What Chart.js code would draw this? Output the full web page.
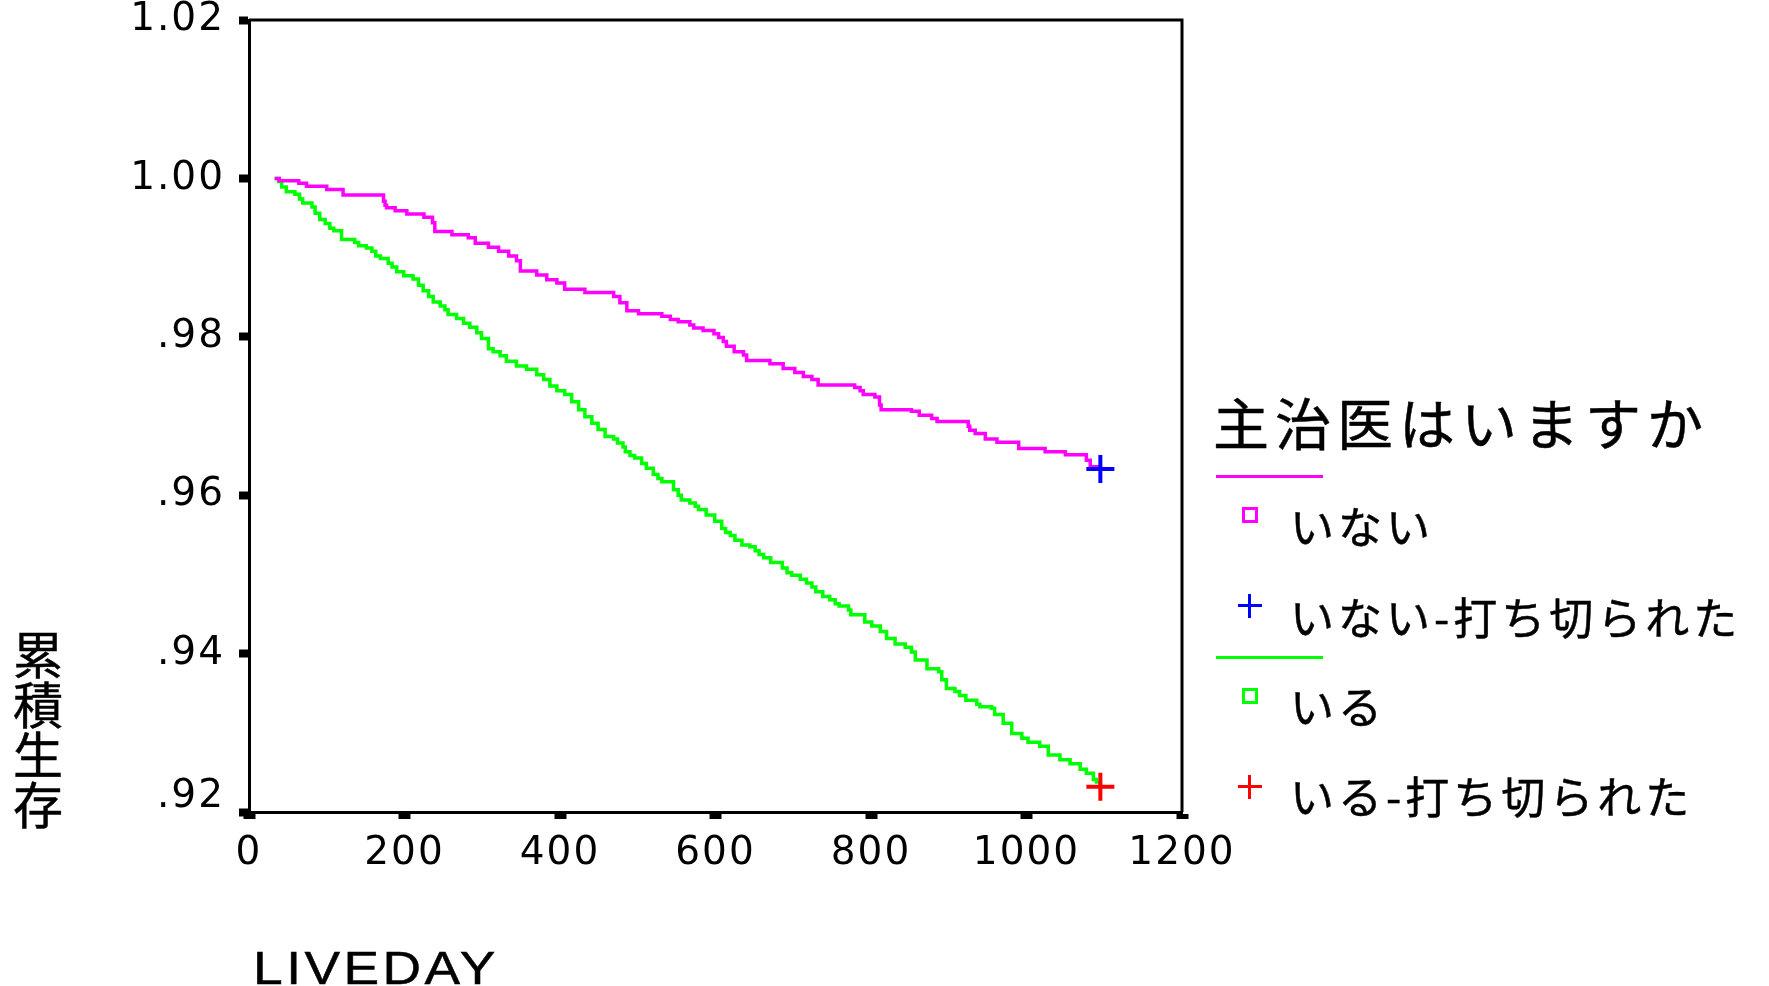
<!DOCTYPE html>
<html>
<head>
<meta charset="utf-8">
<script src="https://cdn.jsdelivr.net/npm/chart.js@4.4.1/dist/chart.umd.min.js"></script>
<style>
  body { margin: 0; background: #fff; }
  #wrap { position: relative; width: 1769px; height: 986px; }
  .txt { position: absolute; font-family: 'Noto Sans CJK JP', sans-serif; color: #000; white-space: nowrap; -webkit-text-stroke: 0.5px #000; }
  .legend-title { font-size: 56px; line-height: 56px; letter-spacing: 6px; }
  .legend-item { font-size: 44px; line-height: 44px; letter-spacing: 4px; }
  .sample { position: absolute; height: 3px; width: 107px; }
  .square { position: absolute; width: 10px; height: 10px; border: 3px solid; }
  .plus { position: absolute; width: 24px; height: 24px; }
  .plus::before, .plus::after { content: ''; position: absolute; background: currentColor; }
  .plus::before { left: 0; top: 10px; width: 24px; height: 3px; }
  .plus::after { left: 10px; top: 0; width: 3px; height: 24px; }
</style>
</head>
<body>
<div id="wrap">
  <canvas id="kmChart"></canvas>

  <div class="txt" id="ytitle" style="left:12px; top:627px; font-size:50px; line-height:50px; width:52px; text-align:center;">累<br>積<br>生<br>存</div>
  <div class="txt" style="left:253px; top:945px; font-family:'Liberation Sans', Arial, sans-serif; font-size:46px; line-height:46px; letter-spacing:3px; transform:scaleX(1.16); transform-origin:left top;">LIVEDAY</div>

  <div class="txt legend-title" style="left:1213px; top:393px;">主治医はいますか</div>
  <div class="sample" style="left:1216px; top:475px; background:#ff00ff;"></div>
  <div class="square" style="left:1242px; top:507px; border-color:#ff00ff;"></div>
  <div class="txt legend-item" style="left:1290px; top:503px;">いない</div>
  <div class="plus" style="left:1238px; top:594px; color:#0000ff;"></div>
  <div class="txt legend-item" style="left:1290px; top:594px;">いない-打ち切られた</div>
  <div class="sample" style="left:1216px; top:656px; background:#00ff00;"></div>
  <div class="square" style="left:1242px; top:688px; border-color:#00ff00;"></div>
  <div class="txt legend-item" style="left:1290px; top:683px;">いる</div>
  <div class="plus" style="left:1238px; top:775px; color:#ff0000;"></div>
  <div class="txt legend-item" style="left:1290px; top:773px;">いる-打ち切られた</div>
</div>

<script>
// survival curve for "いない" (no primary doctor)
const noDocDays = [33, 39, 64, 74, 100, 121, 173, 175, 177, 188, 203, 225, 236, 239, 261, 282, 291, 308, 321, 334,
  344, 349, 370, 383, 396, 406, 432, 469, 477, 486, 501, 531, 542, 552, 567, 572, 584, 598, 604, 610,
  614, 624, 636, 640, 670, 687, 702, 713, 724, 732, 779, 786, 790, 805, 811, 813, 852, 862, 878, 885,
  925, 927, 934, 947, 962, 990, 1024, 1050, 1077, 1082, 1095];
const noDocSurv = [1.0000, 0.9997, 0.9994, 0.9990, 0.9986, 0.9979, 0.9971, 0.9966, 0.9963, 0.9959, 0.9955, 0.9951, 0.9944, 0.9933, 0.9929, 0.9925, 0.9918, 0.9913, 0.9908, 0.9902,
  0.9896, 0.9883, 0.9878, 0.9872, 0.9868, 0.9860, 0.9856, 0.9851, 0.9843, 0.9833, 0.9829, 0.9826, 0.9822, 0.9819, 0.9815, 0.9811, 0.9808, 0.9804, 0.9799, 0.9794,
  0.9788, 0.9781, 0.9777, 0.9770, 0.9766, 0.9760, 0.9755, 0.9750, 0.9746, 0.9739, 0.9736, 0.9732, 0.9727, 0.9724, 0.9714, 0.9708, 0.9706, 0.9701, 0.9697, 0.9693,
  0.9687, 0.9682, 0.9678, 0.9671, 0.9667, 0.9659, 0.9655, 0.9651, 0.9644, 0.9636, 0.9634];

// survival curve for "いる" (has primary doctor)
const hasDocDays = [33, 38, 42, 48, 59, 65, 69, 81, 85, 91, 98, 104, 109, 119, 136, 141, 151, 158, 163, 169,
  179, 184, 190, 199, 211, 218, 224, 231, 237, 246, 252, 256, 267, 276, 284, 293, 299, 308, 314, 323,
  331, 344, 357, 370, 379, 387, 396, 406, 415, 424, 432, 441, 449, 458, 469, 474, 481, 484, 490, 496,
  505, 511, 520, 526, 531, 546, 552, 556, 567, 574, 578, 588, 599, 608, 613, 619, 625, 634, 644, 651,
  656, 662, 671, 686, 692, 698, 709, 717, 724, 729, 738, 747, 754, 759, 771, 774, 792, 801, 812, 820,
  831, 844, 852, 857, 872, 887, 891, 897, 908, 914, 922, 936, 940, 955, 959, 970, 981, 994, 1002, 1017,
  1028, 1043, 1056, 1069, 1077, 1086, 1090, 1095];
const hasDocSurv = [1.0000, 0.9996, 0.9989, 0.9983, 0.9980, 0.9974, 0.9969, 0.9964, 0.9956, 0.9948, 0.9943, 0.9937, 0.9934, 0.9923, 0.9919, 0.9915, 0.9912, 0.9908, 0.9902, 0.9899,
  0.9893, 0.9888, 0.9882, 0.9877, 0.9873, 0.9865, 0.9858, 0.9851, 0.9844, 0.9839, 0.9834, 0.9828, 0.9823, 0.9817, 0.9812, 0.9805, 0.9798, 0.9785, 0.9781, 0.9776,
  0.9769, 0.9763, 0.9759, 0.9752, 0.9746, 0.9738, 0.9732, 0.9727, 0.9718, 0.9708, 0.9699, 0.9691, 0.9683, 0.9674, 0.9671, 0.9666, 0.9661, 0.9655, 0.9650, 0.9647,
  0.9640, 0.9634, 0.9626, 0.9621, 0.9617, 0.9607, 0.9600, 0.9594, 0.9590, 0.9586, 0.9582, 0.9575, 0.9567, 0.9558, 0.9553, 0.9549, 0.9543, 0.9537, 0.9535, 0.9530,
  0.9525, 0.9521, 0.9515, 0.9508, 0.9502, 0.9499, 0.9494, 0.9489, 0.9484, 0.9478, 0.9472, 0.9468, 0.9463, 0.9460, 0.9455, 0.9449, 0.9440, 0.9435, 0.9428, 0.9419,
  0.9412, 0.9408, 0.9402, 0.9392, 0.9381, 0.9377, 0.9367, 0.9356, 0.9352, 0.9347, 0.9341, 0.9336, 0.9333, 0.9331, 0.9323, 0.9312, 0.9299, 0.9293, 0.9288, 0.9283,
  0.9272, 0.9266, 0.9261, 0.9254, 0.9249, 0.9241, 0.9238, 0.9233];

// censored points at the end of each curve
const noDocCensor = { day: 1095, surv: 0.9633 };
const hasDocCensor = { day: 1095, surv: 0.9232 };

const xTickLabels = ['0', '200', '400', '600', '800', '1000', '1200'];
const yTickLabels = ['.92', '.94', '.96', '.98', '1.00', '1.02'];

function toPoints(days, surv) {
    return days.map((d, i) => ({ x: d, y: surv[i] }));
}

const tickFamily = "'DejaVu Sans', 'Liberation Sans', sans-serif";

const spacingPlugin = {
    id: 'spacing',
    beforeLayout(chart) { chart.ctx.letterSpacing = '2px'; },
    beforeDraw(chart) { chart.ctx.letterSpacing = '2px'; }
};

const framePlugin = {
    id: 'frame',
    afterDraw(chart) {
        const { ctx, chartArea } = chart;
        ctx.save();
        ctx.strokeStyle = '#000';
        ctx.lineWidth = 3;
        ctx.beginPath();
        ctx.moveTo(chartArea.left, chartArea.top);
        ctx.lineTo(chartArea.right, chartArea.top);
        ctx.lineTo(chartArea.right, chartArea.bottom);
        ctx.stroke();
        ctx.restore();
    }
};

const ctx = document.getElementById('kmChart').getContext('2d');
new Chart(ctx, {
    type: 'line',
    data: {
        datasets: [
            {
                label: 'いない-打ち切られた',
                data: [{ x: noDocCensor.day, y: noDocCensor.surv }],
                showLine: false,
                pointStyle: 'cross',
                pointRadius: 14,
                pointBorderWidth: 4,
                borderColor: '#0000ff',
                backgroundColor: '#0000ff'
            },
            {
                label: 'いる-打ち切られた',
                data: [{ x: hasDocCensor.day, y: hasDocCensor.surv }],
                showLine: false,
                pointStyle: 'cross',
                pointRadius: 14,
                pointBorderWidth: 4,
                borderColor: '#ff0000',
                backgroundColor: '#ff0000'
            },
            {
                label: 'いない',
                data: toPoints(noDocDays, noDocSurv),
                stepped: true,
                borderColor: '#ff00ff',
                borderWidth: 3.5,
                pointRadius: 0,
                fill: false
            },
            {
                label: 'いる',
                data: toPoints(hasDocDays, hasDocSurv),
                stepped: true,
                borderColor: '#00ff00',
                borderWidth: 3.5,
                pointRadius: 0,
                fill: false
            }
        ]
    },
    options: {
        responsive: true,
        maintainAspectRatio: false,
        animation: false,
        layout: { padding: { top: 20, right: 587, bottom: 0, left: 0 } },
        plugins: {
            legend: { display: false },
            tooltip: { enabled: false }
        },
        scales: {
            x: {
                type: 'linear',
                min: 0,
                max: 1200,
                border: { display: true, color: '#000', width: 3 },
                grid: { drawOnChartArea: false, drawTicks: true, tickLength: 7, tickWidth: 12, tickColor: '#000' },
                ticks: {
                    stepSize: 200,
                    color: '#000',
                    font: { family: tickFamily, size: 39 },
                    padding: 11,
                    maxRotation: 0,
                    callback: (v) => xTickLabels[Math.round(v / 200)]
                },
                afterFit(scale) {
                    scale.height = 174;
                    scale.paddingLeft = 0;
                    scale.paddingRight = 0;
                }
            },
            y: {
                type: 'linear',
                min: 0.92,
                max: 1.02,
                border: { display: true, color: '#000', width: 3 },
                grid: { drawOnChartArea: false, drawTicks: true, tickLength: 10, tickWidth: 8, tickColor: '#000' },
                ticks: {
                    stepSize: 0.02,
                    color: '#000',
                    font: { family: tickFamily, size: 39, lineHeight: 0.8 },
                    padding: 14,
                    callback: (v) => {
                        const i = Math.round((v - 0.92) / 0.02);
                        // lowest label sits a little above its tick
                        return i === 0 ? [yTickLabels[i], ''] : yTickLabels[i];
                    }
                },
                afterFit(scale) {
                    scale.width = 249;
                    scale.paddingTop = 0;
                    scale.paddingBottom = 0;
                }
            }
        }
    },
    plugins: [spacingPlugin, framePlugin]
});
</script>
</body>
</html>
